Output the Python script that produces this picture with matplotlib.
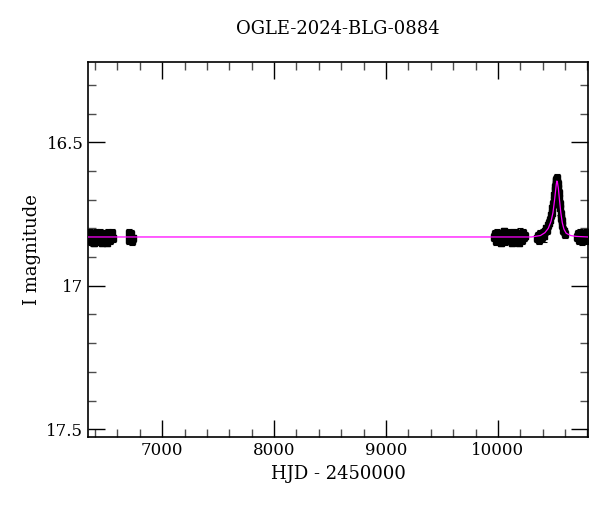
import numpy as np
import matplotlib.pyplot as plt
from matplotlib.ticker import MultipleLocator

plt.rcParams['font.family'] = ['DejaVu Serif']

# observations (HJD - 2450000, I mag, error)
hjd = np.array([
    6345, 6352, 6360, 6366, 6373, 6380, 6388, 6395, 6402, 6410, 6418, 6425,
    6433, 6440, 6448, 6455, 6462, 6470, 6478, 6486, 6494, 6502, 6510, 6518,
    6526, 6534, 6542, 6550, 6558,
    6700, 6708, 6715, 6722, 6730, 6738,
    9965, 9975, 9985, 9995, 10005, 10015, 10025, 10035, 10045, 10055, 10065,
    10075, 10085, 10095, 10105, 10115, 10125, 10135, 10145, 10155, 10165,
    10175, 10185, 10195, 10205, 10215, 10225, 10235, 10245,
    10350, 10360, 10370, 10380, 10390, 10400, 10410, 10420, 10430, 10440,
    10450, 10458, 10466, 10474, 10480, 10486, 10492, 10497, 10502, 10507,
    10511, 10515, 10519, 10523, 10527, 10531, 10535, 10539, 10543, 10547,
    10551, 10555, 10560, 10565, 10570, 10576, 10582, 10590, 10600,
    10705, 10715, 10725, 10735, 10745, 10755, 10765, 10775, 10785, 10795,
])
mag = np.array([
    16.83, 16.815, 16.845, 16.835, 16.82, 16.84, 16.85, 16.825, 16.835, 16.815, 16.845, 16.83,
    16.825, 16.84, 16.815, 16.83, 16.85, 16.835, 16.82, 16.845, 16.83, 16.82, 16.85, 16.815,
    16.83, 16.84, 16.825, 16.815, 16.835,
    16.815, 16.84, 16.83, 16.82, 16.845, 16.835,
    16.83, 16.82, 16.845, 16.815, 16.84, 16.83, 16.85, 16.82, 16.835, 16.81, 16.845,
    16.83, 16.82, 16.84, 16.815, 16.835, 16.85, 16.825, 16.83, 16.84, 16.815,
    16.83, 16.85, 16.82, 16.835, 16.84, 16.815, 16.83, 16.825,
    16.835, 16.825, 16.84, 16.82, 16.83, 16.815, 16.825, 16.81, 16.80, 16.805,
    16.79, 16.78, 16.77, 16.755, 16.745, 16.73, 16.715, 16.70, 16.685, 16.665,
    16.655, 16.645, 16.635, 16.63, 16.625, 16.64, 16.645, 16.66, 16.675, 16.695,
    16.715, 16.73, 16.75, 16.765, 16.775, 16.79, 16.805, 16.81, 16.82,
    16.83, 16.82, 16.84, 16.815, 16.835, 16.845, 16.825, 16.83, 16.815, 16.84,
])
err = np.full(len(hjd), 0.013)
err[[5, 11, 20, 40, 52, 58, 70, 95, 110]] = 0.022

# model light curve
model_t = [6339, 10300, 10380, 10420, 10450, 10475, 10492, 10505, 10515, 10522,
           10527, 10532, 10540, 10550, 10562, 10575, 10590, 10610, 10650, 10700, 10805]
model_m = [16.83, 16.83, 16.825, 16.815, 16.80, 16.775, 16.745, 16.705, 16.67, 16.645,
           16.635, 16.64, 16.66, 16.70, 16.745, 16.78, 16.803, 16.817, 16.825, 16.828, 16.83]

fig = plt.figure(figsize=(6, 5.12), dpi=100)
ax = fig.add_axes([0.147, 0.146, 0.833, 0.733])

ax.errorbar(hjd, mag, yerr=err, fmt='s', ms=4.5, color='black', ecolor='black',
            elinewidth=0.8, capsize=2, capthick=0.8)
ax.plot(model_t, model_m, color='magenta', lw=0.9, zorder=5)

ax.set_xlim(6339, 10805)
ax.set_ylim(17.528, 16.22)
ax.xaxis.set_major_locator(MultipleLocator(1000))
ax.xaxis.set_minor_locator(MultipleLocator(200))
ax.yaxis.set_major_locator(MultipleLocator(0.5))
ax.yaxis.set_minor_locator(MultipleLocator(0.1))
ax.yaxis.set_major_formatter(plt.FuncFormatter(lambda v, p: f'{v:g}'))
ax.tick_params(which='both', direction='in', top=True, right=True, labelsize=12)
ax.tick_params(which='major', length=12, width=1)
ax.tick_params(which='minor', length=6, width=1, color='0.3')
for s in ax.spines.values():
    s.set_linewidth(1.2)

ax.set_xlabel('HJD - 2450000', fontsize=13)
ax.set_ylabel('I magnitude', fontsize=13)
ax.set_title('OGLE-2024-BLG-0884', fontsize=13, pad=20)

fig.savefig('out.png', dpi=100)
